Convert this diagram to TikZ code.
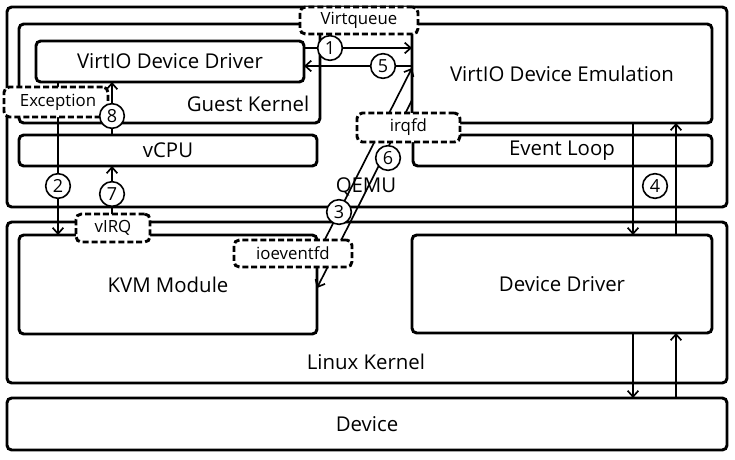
\documentclass[tikz,border=0pt]{standalone}
\usepackage{fontspec}
\setmainfont{Open Sans}
\usetikzlibrary{arrows.meta,fit}
\begin{document}
\begin{tikzpicture}[x=0.75pt,y=-0.75pt,
  every node/.style={inner sep=0pt, outer sep=0pt},
  box/.style={draw, line width=2.2pt, rounded corners=3.5pt, fill=white},
  dbox/.style={draw, line width=2.2pt, rounded corners=4pt, dash pattern=on 4.5pt off 2.2pt, fill=white},
  lbl/.style={font=\fontsize{15.3}{17}\selectfont},
  slbl/.style={font=\fontsize{12.6}{14}\selectfont},
  num/.style={circle, draw, line width=1.2pt, fill=white, minimum size=18.5pt, font=\fontsize{13.5}{13.5}\selectfont},
  conn/.style={line width=1.25pt, -{Straight Barb[length=4.5pt,width=8pt]}},
]
\useasboundingbox (0,0) rectangle (735,460);
% helper coordinates
\coordinate (r48) at (0,48);
\coordinate (r66) at (0,66);
\coordinate (r68) at (0,68);
\coordinate (r100) at (0,100);
\coordinate (r255) at (0,255);
\coordinate (r288) at (0,288);
\coordinate (c58) at (58,0);
\coordinate (c112) at (112,0);
\coordinate (c633) at (633,0);
\coordinate (c676) at (676,0);
% big boxes
\node[box, fit={(7,7)(727,207)}] (qemu) {};
\node[box, fit={(7,222)(727,383)}] (lk) {};
\node[box, fit={(7,398)(727,450)}] (dev) {};
% inner boxes
\node[box, fit={(19,24)(320,123)}] (gk) {};
\node[box, fit={(36,41)(304,82)}] (vdd) {};
\node[box, fit={(412,24)(712,123)}] (emu) {};
\node[box, fit={(19,135)(317,166)}] (vcpu) {};
\node[box, fit={(413,135)(712,166)}] (evl) {};
\node[box, fit={(19,235)(317,334)}] (kvm) {};
\node[box, fit={(412,235)(712,333)}] (dd) {};
% labels
\node[lbl] (tdev) at (dev.center) {Device};
\node[lbl] (tvdd) at (vdd.center) {VirtIO Device Driver};
\node[lbl] (temu) at (emu.center) {VirtIO Device Emulation};
\node[lbl] (tvcpu) at (vcpu.center) {vCPU};
\node[lbl] (tevl) at (562,151) {Event Loop};
\node[lbl] (tkvm) at (kvm.center) {KVM Module};
\node[lbl] (tdd) at (dd.center) {Device Driver};
\node[lbl] (lgk) at (248,104) {Guest Kernel};
\node[lbl] (lqemu) at (366,187) {QEMU};
\node[lbl] (llk) at (366,362) {Linux Kernel};
% connectors
\draw[conn] (vdd.east|-r48) -- (emu.west|-r48);
\draw[conn] (emu.west|-r66) -- (vdd.east|-r66);
\draw[conn] (vdd.south-|c58) -- (kvm.north-|c58);
\draw[conn] (vcpu.north-|c112) -- (vdd.south-|c112);
\draw[conn] (kvm.east|-r255) -- (emu.west|-r68);
\draw[conn] (emu.west|-r100) -- (kvm.east|-r288);
\draw[conn] (emu.south-|c633) -- (dd.north-|c633);
\draw[conn] (dd.north-|c676) -- (emu.south-|c676);
\draw[conn] (dd.south-|c633) -- (dev.north-|c633);
\draw[conn] (dev.north-|c676) -- (dd.south-|c676);
% dashed boxes
\node[dbox, fit={(300,7)(418,34)}] (vq) {};
\node[dbox, fit={(4,87)(108,117)}] (exc) {};
\node[dbox, fit={(357,113)(460,142)}] (irq) {};
\node[dbox, fit={(76,214)(150,242)}] (virq) {};
\node[dbox, fit={(234,240)(352,267)}] (ioe) {};
\node[slbl] (tvq) at (vq.center) {Virtqueue};
\node[slbl] (texc) at (58,102) {Exception};
\node[slbl] (tirq) at (irq.center) {irqfd};
\node[slbl] (tvirq) at (virq.center) {vIRQ};
\node[slbl] (tioe) at (ioe.center) {ioeventfd};
\draw[conn] (virq.north-|c112) -- (vcpu.south-|c112);
% numbered circles
\node[num] (n1) at (330,48) {1};
\node[num] (n2) at (58,186) {2};
\node[num] (n3) at (339,212) {3};
\node[num] (n4) at (655,186) {4};
\node[num] (n5) at (383,66) {5};
\node[num] (n6) at (388,158) {6};
\node[num] (n7) at (112,194) {7};
\node[num] (n8) at (112,116) {8};
\end{tikzpicture}
\end{document}
